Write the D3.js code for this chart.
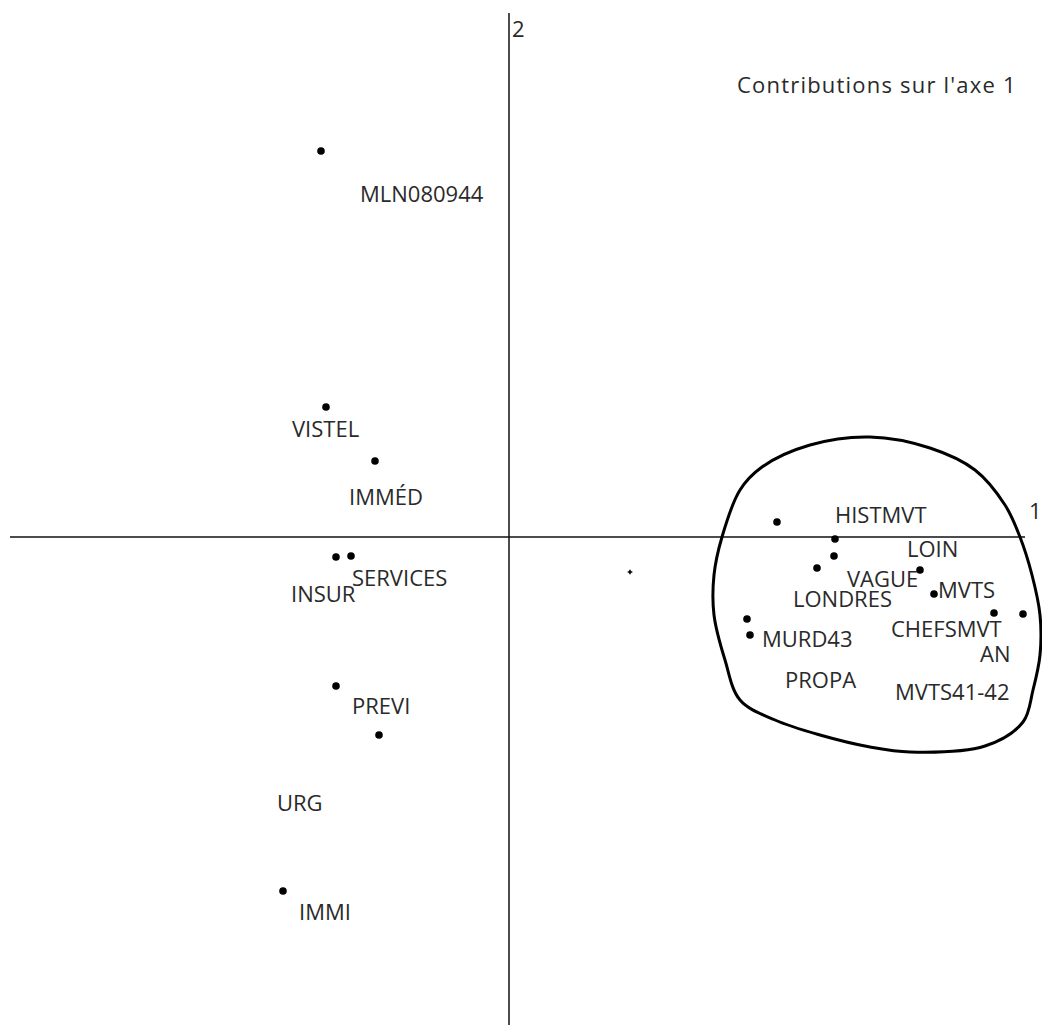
<!DOCTYPE html>
<html>
<head>
<meta charset="utf-8">
<script src="https://cdn.jsdelivr.net/npm/d3@7"></script>
<style>
  body { margin: 0; background: #fff; }
  svg text { font-family: "Open Sans", sans-serif; font-size: 22px; fill: #2a2a2a; }
</style>
</head>
<body>
<div id="plan"></div>
<script>
// coordonnees des modalites (plan factoriel 1-2)
var ptX = [-1.88, -1.83, -1.34, -1.73, -1.58, -1.73, -1.30, -2.26,
           2.68, 3.26, 3.25, 3.08, 4.11, 4.25, 4.85, 5.14, 2.38, 2.41];
var ptY = [3.86, 1.30, 0.76, -0.20, -0.19, -1.49, -1.98, -3.54,
           0.15, -0.02, -0.19, -0.31, -0.33, -0.57, -0.76, -0.77, -0.82, -0.98];

// etiquettes (placees a part des points)
var labNames = ["MLN080944", "VISTEL", "IMMÉD", "INSUR", "SERVICES", "PREVI", "URG", "IMMI",
                "HISTMVT", "LOIN", "VAGUE", "MVTS", "LONDRES", "CHEFSMVT", "MURD43", "AN", "PROPA", "MVTS41-42"];
var labX = [-1.49, -2.17, -1.60, -2.18, -1.57, -1.57, -2.32, -2.10,
            3.26, 3.98, 3.38, 4.29, 2.84, 3.82, 2.53, 4.71, 2.76, 3.86];
var labY = [3.35, 1.00, 0.32, -0.65, -0.49, -1.77, -2.74, -3.83,
            0.14, -0.20, -0.50, -0.61, -0.70, -1.00, -1.10, -1.25, -1.51, -1.63];

// petite croix (centre de gravite ?)
var crossX = [1.21], crossY = [-0.35];

// contour trace a la main autour du groupe de droite
var loopX = [3.61, 4.21, 4.66, 4.96, 5.11, 5.23, 5.31, 5.31, 5.24, 5.14, 4.76, 4.01,
             3.61, 3.11, 2.66, 2.31, 2.16, 2.05, 2.05, 2.13, 2.31, 2.53, 3.01];
var loopY = [1.00, 0.89, 0.67, 0.32, 0.00, -0.38, -0.78, -1.18, -1.53, -1.85, -2.09, -2.15,
             -2.10, -1.98, -1.83, -1.63, -1.23, -0.78, -0.38, 0.00, 0.47, 0.70, 0.92];

var axisX = [-4.99, 5.16], axisY = [5.24, -4.88];
var title = "Contributions sur l'axe 1";

var width = 1042, height = 1025;

var svg = d3.select("#plan").append("svg")
    .attr("width", width)
    .attr("height", height);

var x = d3.scaleLinear().domain([-5.09, 5.33]).range([0, width]);
var y = d3.scaleLinear().domain([5.37, -4.88]).range([0, height]);

// axes
svg.append("line")
    .attr("x1", x(axisX[0])).attr("x2", x(axisX[1]))
    .attr("y1", y(0)).attr("y2", y(0))
    .style("stroke", "#111").style("stroke-width", 1.5);
svg.append("line")
    .attr("x1", x(0)).attr("x2", x(0))
    .attr("y1", y(axisY[0])).attr("y2", y(axisY[1]))
    .style("stroke", "#111").style("stroke-width", 1.5);

svg.append("text").attr("x", x(0) + 3).attr("y", y(axisY[0]) + 24).text("2");
svg.append("text").attr("x", x(axisX[1]) + 4).attr("y", y(0) - 18).text("1");
svg.append("text").attr("x", x(2.28)).attr("y", y(4.44))
    .style("letter-spacing", "1.2px")
    .text(title);

// contour
var loop = loopX.map(function(d, i) { return [d, loopY[i]]; });
svg.append("path")
    .datum(loop)
    .attr("d", d3.line()
        .x(function(d) { return x(d[0]); })
        .y(function(d) { return y(d[1]); })
        .curve(d3.curveCatmullRomClosed))
    .style("fill", "none")
    .style("stroke", "#000")
    .style("stroke-width", 3);

// points
svg.append("g").selectAll("circle")
    .data(ptX)
  .enter().append("circle")
    .attr("cx", function(d) { return x(d); })
    .attr("cy", function(d, i) { return y(ptY[i]); })
    .attr("r", 3.8)
    .style("fill", "#000");

svg.append("g").selectAll("path")
    .data(crossX)
  .enter().append("path")
    .attr("d", d3.symbol().type(d3.symbolCross).size(12))
    .attr("transform", function(d, i) { return "translate(" + x(d) + "," + y(crossY[i]) + ")"; })
    .style("fill", "#000");

// etiquettes
svg.append("g").selectAll("text")
    .data(labNames)
  .enter().append("text")
    .attr("x", function(d, i) { return x(labX[i]); })
    .attr("y", function(d, i) { return y(labY[i]); })
    .text(function(d) { return d; });
</script>
</body>
</html>
